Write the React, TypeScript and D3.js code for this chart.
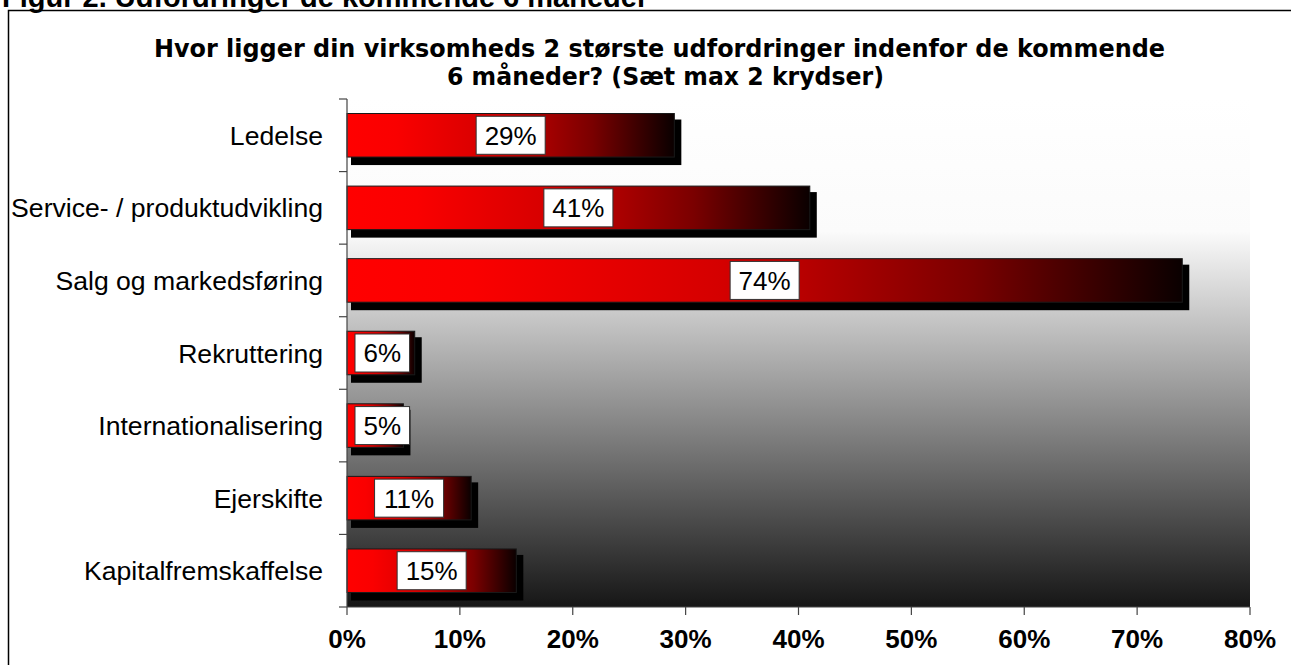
import React from 'react'
import * as d3 from 'd3'

const categories = [
  'Ledelse',
  'Service- / produktudvikling',
  'Salg og markedsføring',
  'Rekruttering',
  'Internationalisering',
  'Ejerskifte',
  'Kapitalfremskaffelse',
]
const values = [29, 41, 74, 6, 5, 11, 15]
const xTicks = [0, 10, 20, 30, 40, 50, 60, 70, 80]
const titleLines = [
  'Hvor ligger din virksomheds 2 største udfordringer indenfor de kommende',
  '6 måneder? (Sæt max 2 krydser)',
]
const heading = 'Figur 2. Udfordringer de kommende 6 måneder'

const W = 1291
const H = 665
const plot = { left: 347, right: 1250, top: 99, bottom: 607 }
const arial = '"Liberation Sans", Arial, sans-serif'

export default function App() {
  const x = d3.scaleLinear().domain([0, 80]).range([plot.left, plot.right])
  const y = d3
    .scaleBand<string>()
    .domain(categories)
    .range([plot.top, plot.bottom])
    .paddingInner(0.4)
    .paddingOuter(0.2)
  const step = (plot.bottom - plot.top) / categories.length
  const bw = y.bandwidth()

  // label box width from Arial digit / percent advance widths
  const labelWidth = (s: string) =>
    s.split('').reduce((a, c) => a + (c === '%' ? 0.889 : 0.556), 0) * 26 + 17

  return (
    <svg
      width={W}
      height={H}
      style={{ position: 'absolute', left: 0, top: 0, display: 'block', background: '#fff' }}
    >
      <defs>
        <linearGradient id="bg" x1="0" y1="0" x2="0" y2="1">
          <stop offset="0" stopColor="#ffffff" />
          <stop offset="0.26" stopColor="#fbfbfb" />
          <stop offset="1" stopColor="#161616" />
        </linearGradient>
        <linearGradient id="bar" x1="0" y1="0" x2="1" y2="0">
          <stop offset="0" stopColor="#ff0000" />
          <stop offset="0.15" stopColor="#fa0000" />
          <stop offset="0.45" stopColor="#d40000" />
          <stop offset="0.75" stopColor="#7a0000" />
          <stop offset="1" stopColor="#0a0000" />
        </linearGradient>
      </defs>

      <text x={2} y={7} fontFamily={arial} fontWeight="bold" fontSize={29} fill="#000">
        {heading}
      </text>
      <rect x={8.5} y={10.5} width={W + 20} height={H + 20} fill="none" stroke="#000" strokeWidth={1.5} />

      {titleLines.map((t, i) => (
        <text
          key={i}
          x={i === 0 ? 154 : 447}
          y={57 + i * 28}
          textLength={i === 0 ? 1011 : 437}
          lengthAdjust="spacingAndGlyphs"
          fontFamily='"DejaVu Sans Condensed", "DejaVu Sans", sans-serif'
          fontWeight="bold"
          fontSize={25}
          fill="#000"
        >
          {t}
        </text>
      ))}

      <rect
        x={plot.left}
        y={plot.top}
        width={plot.right - plot.left}
        height={plot.bottom - plot.top}
        fill="url(#bg)"
      />

      {categories.map((c, i) => {
        const y0 = y(c)!
        const x0 = x(0)
        const x1 = x(values[i])
        const lbl = values[i] + '%'
        const lw = labelWidth(lbl)
        const cx = Math.max((x0 + x1) / 2, x0 + 8 + lw / 2)
        return (
          <g key={c}>
            <rect x={x0 + 4} y={y0 + 6} width={x1 - x0 + 3} height={bw + 2} fill="#000" />
            <rect x={x0} y={y0} width={x1 - x0} height={bw} fill="url(#bar)" stroke="#1a1a1a" strokeWidth={1} />
            <rect
              x={cx - lw / 2}
              y={y0 + bw / 2 - 19}
              width={lw}
              height={38}
              fill="#fff"
              stroke="#333"
              strokeWidth={1}
            />
            <text x={cx} y={y0 + bw / 2} dy="0.36em" textAnchor="middle" fontFamily={arial} fontSize={26} fill="#000">
              {lbl}
            </text>
            <text
              x={323}
              y={y0 + bw / 2}
              dy="0.36em"
              textAnchor="end"
              fontFamily={arial}
              fontSize={26.6}
              fill="#000"
            >
              {c}
            </text>
          </g>
        )
      })}

      {/* y axis */}
      <line x1={plot.left} x2={plot.left} y1={plot.top} y2={plot.bottom} stroke="#444" strokeWidth={1.2} />
      {d3.range(categories.length + 1).map((i) => (
        <line
          key={i}
          x1={plot.left - 8}
          x2={plot.left}
          y1={plot.top + i * step}
          y2={plot.top + i * step}
          stroke="#444"
          strokeWidth={1.2}
        />
      ))}

      {/* x axis */}
      <line x1={plot.left} x2={plot.right} y1={plot.bottom} y2={plot.bottom} stroke="#444" strokeWidth={1.2} />
      {xTicks.map((t) => (
        <g key={t}>
          <line x1={x(t)} x2={x(t)} y1={plot.bottom} y2={plot.bottom + 8} stroke="#444" strokeWidth={1.2} />
          <text x={x(t)} y={648} textAnchor="middle" fontFamily={arial} fontWeight="bold" fontSize={26} fill="#000">
            {t}%
          </text>
        </g>
      ))}
    </svg>
  )
}
